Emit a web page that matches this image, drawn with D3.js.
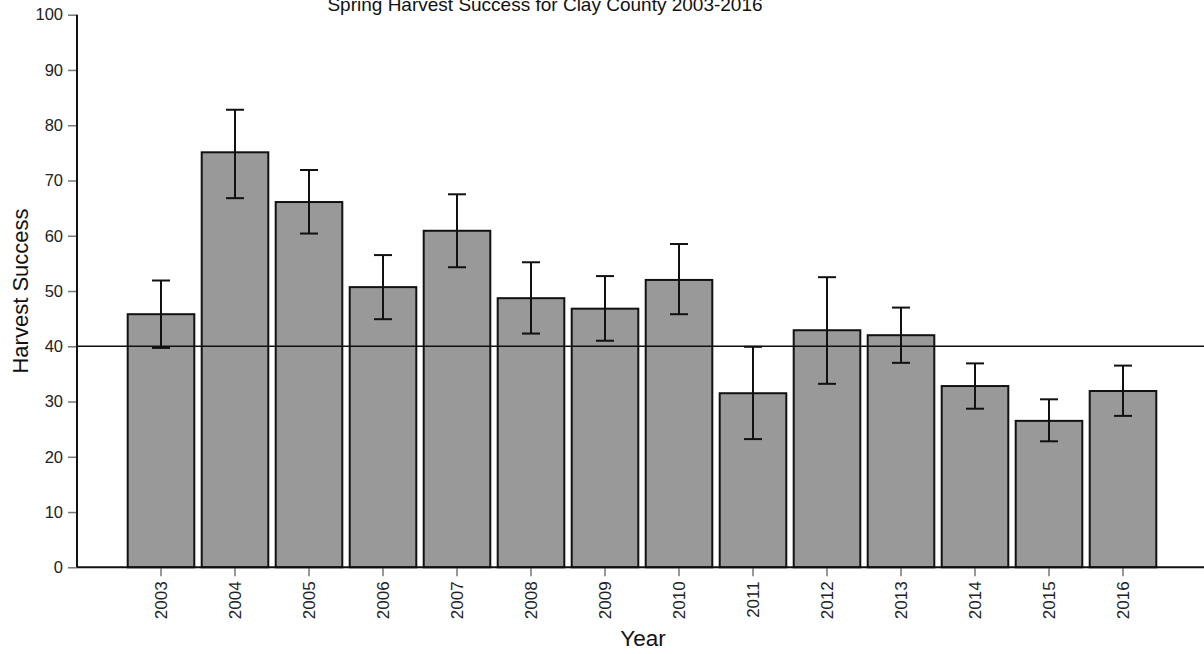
<!DOCTYPE html>
<html>
<head>
<meta charset="utf-8">
<script src="https://cdn.jsdelivr.net/npm/d3@7"></script>
<style>
  body { margin: 0; background: #fff; }
  text { font-family: "Liberation Sans", Arial, sans-serif; }
</style>
</head>
<body>
<div id="plot"></div>
<script>
// data
let years = ["2003","2004","2005","2006","2007","2008","2009","2010","2011","2012","2013","2014","2015","2016"];
let success = [45.8, 75.1, 66.1, 50.7, 60.9, 48.7, 46.8, 52.0, 31.5, 42.9, 42.0, 32.8, 26.5, 31.9];
let errHigh = [51.9, 82.8, 71.9, 56.5, 67.5, 55.2, 52.7, 58.5, 39.9, 52.5, 47.0, 36.9, 30.4, 36.5];
let errLow  = [39.7, 66.8, 60.4, 44.9, 54.3, 42.3, 41.0, 45.8, 23.2, 33.2, 37.0, 28.7, 22.8, 27.4];
let yTicks = [0, 10, 20, 30, 40, 50, 60, 70, 80, 90, 100];
let refLine = 40;

window.addEventListener("load", main);

function main(){
  let [svgWidth, svgHeight] = [1204, 654];
  let data = years.map((y, i) => ({year: y, v: success[i], hi: errHigh[i], lo: errLow[i]}));

  let svg = d3.select('#plot').append('svg')
    .attr('width', svgWidth)
    .attr('height', svgHeight);

  let xsc = d3.scaleBand()
    .domain(years)
    .range([124, 1160])
    .paddingInner(0.1)
    .paddingOuter(0.05);

  let ysc = d3.scaleLinear()
    .domain([0, 100])
    .range([567.3, 14.7]);

  let left = 77;

  // bars
  svg.append('g').selectAll('rect')
    .data(data)
    .join('rect')
      .attr('x', d => xsc(d.year))
      .attr('width', xsc.bandwidth())
      .attr('y', d => ysc(d.v))
      .attr('height', d => ysc(0) - ysc(d.v))
      .attr('fill', '#999999')
      .attr('stroke', '#111')
      .attr('stroke-width', 2);

  // reference line at 40
  svg.append('line')
    .attr('x1', left).attr('x2', svgWidth)
    .attr('y1', ysc(refLine)).attr('y2', ysc(refLine))
    .attr('stroke', '#111')
    .attr('stroke-width', 1.6);

  // error bars
  let cap = 9;
  let eb = svg.append('g').attr('stroke', '#111').attr('stroke-width', 2);
  eb.selectAll('line.v').data(data).join('line').attr('class', 'v')
    .attr('x1', d => xsc(d.year) + xsc.bandwidth()/2)
    .attr('x2', d => xsc(d.year) + xsc.bandwidth()/2)
    .attr('y1', d => ysc(d.hi))
    .attr('y2', d => ysc(d.lo));
  eb.selectAll('line.t').data(data).join('line').attr('class', 't')
    .attr('x1', d => xsc(d.year) + xsc.bandwidth()/2 - cap)
    .attr('x2', d => xsc(d.year) + xsc.bandwidth()/2 + cap)
    .attr('y1', d => ysc(d.hi))
    .attr('y2', d => ysc(d.hi));
  eb.selectAll('line.b').data(data).join('line').attr('class', 'b')
    .attr('x1', d => xsc(d.year) + xsc.bandwidth()/2 - cap)
    .attr('x2', d => xsc(d.year) + xsc.bandwidth()/2 + cap)
    .attr('y1', d => ysc(d.lo))
    .attr('y2', d => ysc(d.lo));

  // axes
  let yAx = svg.append('g')
    .attr('transform', `translate(${left},0)`)
    .call(d3.axisLeft(ysc).tickValues(yTicks).tickSize(9).tickPadding(5));
  yAx.select('.domain').remove();
  yAx.selectAll('.tick line').attr('stroke', '#777').attr('stroke-width', 1.5);
  yAx.selectAll('.tick text').attr('fill', '#222').style('font-size', '16.5px');
  svg.append('line')
    .attr('x1', left).attr('x2', left)
    .attr('y1', ysc(100)).attr('y2', ysc(0))
    .attr('stroke', '#111').attr('stroke-width', 2);

  let xAx = svg.append('g')
    .attr('transform', `translate(0,${ysc(0)})`)
    .call(d3.axisBottom(xsc).tickSize(9).tickSizeOuter(0));
  xAx.select('.domain').remove();
  xAx.selectAll('.tick line').attr('stroke', '#777').attr('stroke-width', 1.5);
  xAx.selectAll('.tick text')
    .attr('fill', '#222')
    .style('font-size', '17px')
    .attr('transform', 'rotate(-90)')
    .attr('text-anchor', 'end')
    .attr('x', -14)
    .attr('y', 0)
    .attr('dy', '0.35em');
  svg.append('line')
    .attr('x1', left).attr('x2', svgWidth)
    .attr('y1', ysc(0)).attr('y2', ysc(0))
    .attr('stroke', '#111').attr('stroke-width', 2);

  // titles (the chart title sits partly above the top edge, as in the source)
  svg.append('text')
    .attr('x', 545).attr('y', 11)
    .attr('text-anchor', 'middle')
    .attr('fill', '#111')
    .style('font-size', '19px')
    .text('Spring Harvest Success for Clay County 2003-2016');

  svg.append('text')
    .attr('x', 643).attr('y', 646)
    .attr('text-anchor', 'middle')
    .attr('fill', '#111')
    .style('font-size', '22.5px')
    .text('Year');

  svg.append('text')
    .attr('transform', 'translate(28,291) rotate(-90)')
    .attr('text-anchor', 'middle')
    .attr('fill', '#111')
    .style('font-size', '22px')
    .text('Harvest Success');
}
</script>
</body>
</html>
